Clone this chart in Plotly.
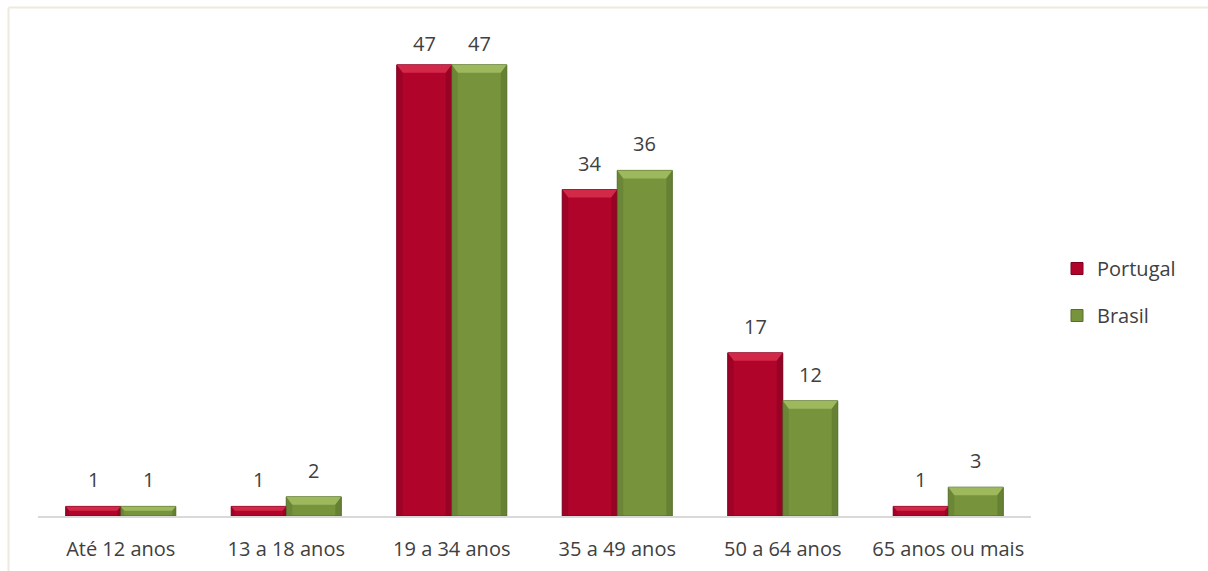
import plotly.graph_objects as go

# Age groups and counts per country
categories = ["Até 12 anos", "13 a 18 anos", "19 a 34 anos", "35 a 49 anos", "50 a 64 anos", "65 anos ou mais"]
portugal = [1, 1, 47, 34, 17, 1]
brasil = [1, 2, 47, 36, 12, 3]

W, H = 1208, 571
ML, MR, MT, MB = 38, 177, 36, 55
PW, PH = W - ML - MR, H - MT - MB
YMAX = 50
BARGAP = 0.335

RED = "#b0042b"
RED_HI = "#d9304f"
RED_DK = "#7e0020"
GREEN = "#77933c"
GREEN_HI = "#a4c063"
GREEN_DK = "#55702a"
TEXT = "#404040"
FONT = "Open Sans"
LABEL_BOX = 28      # approx. height of a value label box, px
LABEL_SHIFT = 11    # gap between bar top and label box, px
LABEL_TOP = PH + 5  # labels are kept below this height, px above the axis

fig = go.Figure()
fig.add_trace(go.Bar(name="Portugal", x=categories, y=portugal, marker=dict(color=RED, line=dict(color=RED_DK, width=1)),
                     legendgroup="p", hoverinfo="y"))
fig.add_trace(go.Bar(name="Brasil", x=categories, y=brasil, marker=dict(color=GREEN, line=dict(color=GREEN_DK, width=1)),
                     legendgroup="b", hoverinfo="y"))

# bevel highlights on each bar, in data units
px_x = len(categories) / PW      # category units per pixel
px_y = YMAX / PH                 # value units per pixel
half = (1 - BARGAP) / 2
shapes = []
annotations = []
for series, hi, dk, side in ((portugal, RED_HI, RED_DK, -1), (brasil, GREEN_HI, GREEN_DK, 1)):
    for i, v in enumerate(series):
        x0 = i if side > 0 else i - half
        x1 = i + half if side > 0 else i
        bh = min(8 * px_y, v * 0.45)
        inset = min(6 * px_x, bh / px_y * px_x * 0.8)
        # top light trapezoid
        shapes.append(dict(type="path", xref="x", yref="y",
                           path=f"M {x0},{v} L {x1},{v} L {x1 - inset},{v - bh} L {x0 + inset},{v - bh} Z",
                           fillcolor=hi, line=dict(width=0), layer="above", opacity=0.85))
        # darker side edges
        shapes.append(dict(type="path", xref="x", yref="y",
                           path=f"M {x0},{v} L {x0 + inset},{v - bh} L {x0 + inset},{0} L {x0},{0} Z",
                           fillcolor=dk, line=dict(width=0), layer="above", opacity=0.35))
        shapes.append(dict(type="path", xref="x", yref="y",
                           path=f"M {x1},{v} L {x1 - inset},{v - bh} L {x1 - inset},{0} L {x1},{0} Z",
                           fillcolor=dk, line=dict(width=0), layer="above", opacity=0.5))
        # value label, kept inside the chart area
        shift = min(LABEL_SHIFT, LABEL_TOP - LABEL_BOX - v / px_y)
        annotations.append(dict(x=(x0 + x1) / 2, y=v, xref="x", yref="y", text=str(v), showarrow=False,
                                yanchor="bottom", yshift=shift, font=dict(family=FONT, size=20, color=TEXT)))

# chart border (top and left)
bx = (8.5 - ML) / PW
by = (H - MB - 7.5) / PH
shapes.append(dict(type="line", xref="paper", yref="paper", x0=bx, x1=(W - ML) / PW, y0=by, y1=by,
                   line=dict(color="#eeeae0", width=2), layer="below"))
shapes.append(dict(type="line", xref="paper", yref="paper", x0=bx, x1=bx, y0=by, y1=-MB / PH,
                   line=dict(color="#eeeae0", width=2), layer="below"))

fig.update_layout(
    width=W, height=H,
    margin=dict(l=ML, r=MR, t=MT, b=MB, pad=0, autoexpand=False),
    barmode="group", bargap=BARGAP, bargroupgap=0,
    plot_bgcolor="white", paper_bgcolor="white",
    font=dict(family=FONT, color=TEXT, size=20),
    xaxis=dict(showline=True, linecolor="#d9d9d9", linewidth=2, ticks="", showgrid=False, automargin=False,
               tickfont=dict(family=FONT, size=20, color=TEXT), ticklabelstandoff=14, fixedrange=True),
    yaxis=dict(range=[0, YMAX], visible=False, showgrid=False, fixedrange=True, automargin=False),
    legend=dict(x=(1057 - ML) / PW, xanchor="left", y=(H - MB - 292) / PH, yanchor="middle",
                font=dict(family=FONT, size=20, color=TEXT), tracegroupgap=18, traceorder="grouped",
                bgcolor="rgba(0,0,0,0)"),
    shapes=shapes, annotations=annotations,
)

fig.write_html("out.html")
